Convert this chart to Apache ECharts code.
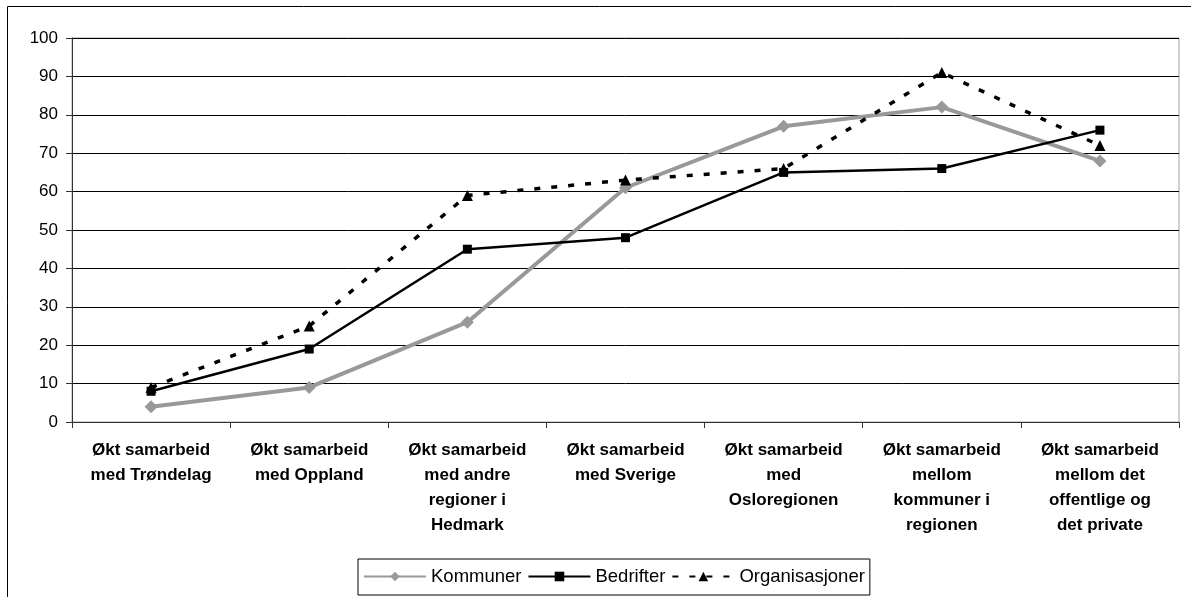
<!DOCTYPE html>
<html>
<head>
<meta charset="utf-8">
<script src="https://cdn.jsdelivr.net/npm/echarts@6/dist/echarts.min.js"></script>
<style>
  html, body { margin: 0; padding: 0; background: #fff; }
  #chart { width: 1191px; height: 597px; }
</style>
</head>
<body>
<div id="chart"></div>
<script>
// Category labels (line breaks as they wrap under each column)
const categories = [
  "Økt samarbeid\nmed Trøndelag",
  "Økt samarbeid\nmed Oppland",
  "Økt samarbeid\nmed andre\nregioner i\nHedmark",
  "Økt samarbeid\nmed Sverige",
  "Økt samarbeid\nmed\nOsloregionen",
  "Økt samarbeid\nmellom\nkommuner i\nregionen",
  "Økt samarbeid\nmellom det\noffentlige og\ndet private"
];

// Share (%) per group
const kommuner       = [4, 9, 26, 61, 77, 82, 68];
const bedrifter      = [8, 19, 45, 48, 65, 66, 76];
const organisasjoner = [9, 25, 59, 63, 66, 91, 72];

const FONT = "'Liberation Sans', Arial, sans-serif";

const chart = echarts.init(document.getElementById('chart'), null, { renderer: 'canvas' });

chart.setOption({
  animation: false,
  backgroundColor: '#fff',
  textStyle: { fontFamily: FONT, color: '#000' },
  graphic: [{
    type: 'rect',
    shape: { x: 7.5, y: 6.5, width: 1200, height: 620 },
    style: { fill: 'none', stroke: '#000', lineWidth: 1 },
    silent: true,
    z: -10
  }],
  grid: {
    left: 72, right: 12, top: 38, bottom: 175,
    show: true, borderColor: '#a0a0a0', borderWidth: 1, backgroundColor: 'transparent'
  },
  legend: {
    left: 358, top: 559,
    padding: [8, 5, 9, 5],
    borderColor: '#000', borderWidth: 1,
    itemWidth: 62, itemHeight: 12, itemGap: 6,
    textStyle: { fontFamily: FONT, fontSize: 18.5, color: '#000' },
    data: ['Kommuner', 'Bedrifter', 'Organisasjoner']
  },
  xAxis: {
    type: 'category',
    data: categories,
    boundaryGap: true,
    axisLine: { lineStyle: { color: '#333', width: 1 } },
    axisTick: { show: true, interval: 0, length: 6, lineStyle: { color: '#333' } },
    axisLabel: {
      interval: 0, margin: 16,
      fontFamily: FONT, fontSize: 17, fontWeight: 'bold', lineHeight: 25, color: '#000', align: 'center'
    },
    splitLine: { show: false }
  },
  yAxis: {
    type: 'value',
    min: 0, max: 100, interval: 10,
    axisLine: { show: true, lineStyle: { color: '#333', width: 1 } },
    axisTick: { show: true, length: 6, lineStyle: { color: '#333' } },
    axisLabel: { margin: 14, fontFamily: FONT, fontSize: 17, color: '#000' },
    splitLine: { show: true, lineStyle: { color: '#000', width: 1 } }
  },
  series: [
    {
      name: 'Kommuner', type: 'line', data: kommuner,
      symbol: 'diamond', symbolSize: 13,
      lineStyle: { color: '#999999', width: 4 },
      itemStyle: { color: '#999999' },
      z: 2
    },
    {
      name: 'Bedrifter', type: 'line', data: bedrifter,
      symbol: 'rect', symbolSize: 9,
      lineStyle: { color: '#000', width: 2.5 },
      itemStyle: { color: '#000' },
      z: 3
    },
    {
      name: 'Organisasjoner', type: 'line', data: organisasjoner,
      symbol: 'triangle', symbolSize: 11,
      lineStyle: { color: '#000', width: 3.5, type: [6, 11] },
      itemStyle: { color: '#000' },
      z: 4
    }
  ]
});
</script>
</body>
</html>
